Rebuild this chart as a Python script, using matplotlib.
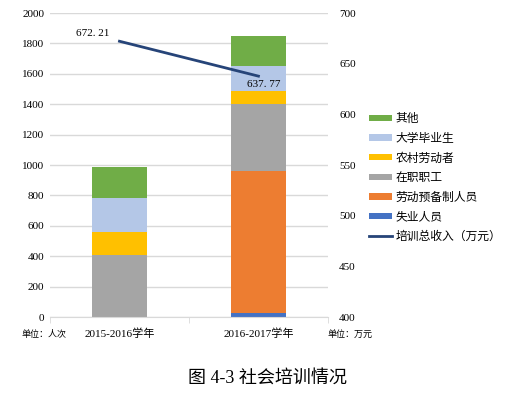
import matplotlib.pyplot as plt
import numpy as np

plt.rcParams['font.family'] = ['Liberation Serif', 'Noto Sans CJK SC']

# data
years = ['2015-2016学年', '2016-2017学年']
series = ['失业人员', '劳动预备制人员', '在职职工', '农村劳动者', '大学毕业生', '其他']
values = {
    '失业人员': [0, 25],
    '劳动预备制人员': [0, 935],
    '在职职工': [410, 445],
    '农村劳动者': [150, 80],
    '大学毕业生': [220, 165],
    '其他': [210, 200],
}
colors = ['#4472C4', '#ED7D31', '#A5A5A5', '#FFC000', '#B4C7E7', '#70AD47']
income = [672.21, 637.77]
income_name = '培训总收入（万元）'

fig = plt.figure(figsize=(5.1, 3.97), dpi=100)
ax = fig.add_axes([0.098, 0.2015, 0.545, 0.7655])
ax2 = ax.twinx()

x = np.arange(len(years))
bottom = np.zeros(len(years))
bars = []
for name, c in zip(series, colors):
    v = np.array(values[name])
    b = ax.bar(x, v, 0.4, bottom=bottom, color=c, label=name, zorder=2)
    bars.append(b)
    bottom += v

ax.set_xlim(-0.5, 1.5)
ax.set_ylim(0, 2000)
ax.set_yticks(range(0, 2001, 200))
ax.set_xticks(x)
ax.set_xticklabels(years)
ax.grid(axis='y', color='#d9d9d9', linewidth=1, zorder=0)
ax.set_axisbelow(True)
for s in ['top', 'left', 'right']:
    ax.spines[s].set_visible(False)
ax.spines['bottom'].set_color('#d9d9d9')
ax.tick_params(axis='y', length=0, labelsize=8, pad=4)
ax.tick_params(axis='x', length=0, labelsize=8, pad=8)
# category separator ticks
ax.set_xticks([-0.5, 0.5, 1.5], minor=True)
ax.tick_params(axis='x', which='minor', length=4, color='#d9d9d9')

ln, = ax2.plot(x, income, color='#264478', linewidth=2, zorder=3)
ax2.set_ylim(400, 700)
ax2.set_yticks(range(400, 701, 50))
ax2.tick_params(axis='y', length=0, labelsize=8, pad=8)
for s in ['top', 'left', 'right', 'bottom']:
    ax2.spines[s].set_visible(False)

ax2.annotate(f'{income[0]:.2f}'.replace('.', '. '), (x[0], income[0]), xytext=(-7, 2),
             textcoords='offset points', ha='right', va='bottom', fontsize=8)
ax2.annotate(f'{income[1]:.2f}'.replace('.', '. '), (x[1], income[1]), xytext=(-8, -3),
             textcoords='offset points', ha='left', va='top', fontsize=8)

handles = [bars[i] for i in range(len(series) - 1, -1, -1)] + [ln]
labels = [series[i] for i in range(len(series) - 1, -1, -1)] + [income_name]
fig.legend(handles, labels, loc='upper left', bbox_to_anchor=(0.715, 0.727),
           frameon=False, fontsize=8.5, handlelength=1.9, handleheight=0.45,
           handletextpad=0.35, labelspacing=0.65, borderaxespad=0)

fig.text(0.043, 0.158, '单位：人次', fontsize=6.5, va='center')
fig.text(0.643, 0.158, '单位：万元', fontsize=6.5, va='center')
fig.text(0.525, 0.048, '图 4-3 社会培训情况', fontsize=13, ha='center', va='center')

fig.savefig('out.png', dpi=100)
